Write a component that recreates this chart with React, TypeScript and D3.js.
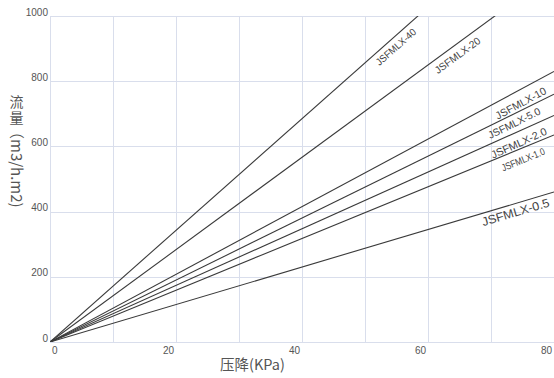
import React from "react";
import * as d3 from "d3";

const seriesNames = ["JSFMLX-40", "JSFMLX-20", "JSFMLX-10", "JSFMLX-5.0", "JSFMLX-2.0", "JSFMLX-1.0", "JSFMLX-0.5"];
// flow (m3/h.m2) at pressure drop 0 and 80 KPa
const pressure = [0, 80];
const flowAt80 = [1370, 1133, 830, 760, 695, 635, 460];
// label anchor along each line (KPa)
const labelAt = [54.9, 64.7, 74.7, 73.7, 74.4, 75.1, 73.9];
const xTicks = [0, 20, 40, 60, 80];
const xGrid = [0, 10, 20, 30, 40, 50, 60, 70, 80];
const yTicks = [0, 200, 400, 600, 800, 1000];
const yTitleCJK = "流量";
const yTitleRest = "（m3/h.m2)";
const xTitle = "压降(KPa)";

const W = 554, H = 378;
const M = { left: 50, right: 554, top: 16, bottom: 342 };
const labelFont = [10, 10.3, 10.6, 10.2, 10.6, 10, 12];
const labelLen = [50, 54, 56, 57, 60, 46, 70];
const labelOff = [8.5, 9.8, 12, 8.5, 10.5, 11, 8.5];

export default function App() {
  const x = d3.scaleLinear().domain([0, 80]).range([M.left, M.right]);
  const y = d3.scaleLinear().domain([0, 1000]).range([M.bottom, M.top]);
  const line = d3.line<[number, number]>().x((d) => x(d[0])).y((d) => y(d[1]));
  const grid = "#d9deec";
  const font = "Arial, 'Liberation Sans', sans-serif";
  const cjk = "'Noto Sans CJK SC', Arial, sans-serif";

  return (
    <svg width={W} height={H} style={{ position: "absolute", left: 0, top: 0, background: "#fff" }} fontFamily={font}>
      <defs>
        <clipPath id="plot">
          <rect x={M.left} y={M.top} width={M.right - M.left} height={M.bottom - M.top} />
        </clipPath>
      </defs>
      {yTicks.map((v) => (
        <line key={"gy" + v} x1={M.left} x2={M.right} y1={Math.round(y(v)) + 0.5} y2={Math.round(y(v)) + 0.5} stroke={grid} strokeWidth={1} />
      ))}
      {xGrid.map((v) => (
        <line key={"gx" + v} y1={M.top} y2={M.bottom} x1={Math.round(x(v)) + 0.5} x2={Math.round(x(v)) + 0.5} stroke={grid} strokeWidth={1} />
      ))}
      {yTicks.map((v) => (
        <text key={"ty" + v} x={M.left - 2} y={y(v) - 0.5} textAnchor="end" fontSize={10} fill="#555">{v}</text>
      ))}
      {xTicks.map((v, i) => (
        <text key={"tx" + v} x={i === 0 ? x(v) + 2 : x(v) - 2} y={354} textAnchor={i === 0 ? "start" : "end"} fontSize={10} fill="#555">{v}</text>
      ))}
      <g clipPath="url(#plot)">
        {seriesNames.map((n, i) => (
          <path key={n} d={line(pressure.map((p) => [p, (flowAt80[i] * p) / 80]) as [number, number][]) || ""} fill="none" stroke="#3a3a3a" strokeWidth={1.1} />
        ))}
      </g>
      {seriesNames.map((n, i) => {
        const slope = (y(0) - y(flowAt80[i])) / (x(80) - x(0));
        const a = Math.atan(slope);
        const d = labelOff[i];
        const cx = x(labelAt[i]);
        const x0 = cx - d * Math.sin(a);
        const py = y((flowAt80[i] * x.invert(x0)) / 80);
        const cy = py + d * Math.cos(a);
        return (
          <text key={"l" + n} x={cx} y={cy} transform={`rotate(${(-a * 180) / Math.PI},${cx},${cy})`} textAnchor="middle" dominantBaseline="central" fontSize={labelFont[i]} textLength={labelLen[i]} lengthAdjust="spacingAndGlyphs" fill="#444">{n}</text>
        );
      })}
      <text x={220} y={369.5} fontSize={14.5} fill="#555" fontFamily={cjk}>{xTitle}</text>
      <text x={107.3} y={-11} fill="#555" fontFamily={cjk} transform="rotate(90)">
        <tspan fontSize={14} rotate="-90" dx="0 2" dy={1.5}>{yTitleCJK}</tspan>
        <tspan fontSize={15} dx={-13.3} dy={-1.5}>{yTitleRest}</tspan>
      </text>
    </svg>
  );
}
